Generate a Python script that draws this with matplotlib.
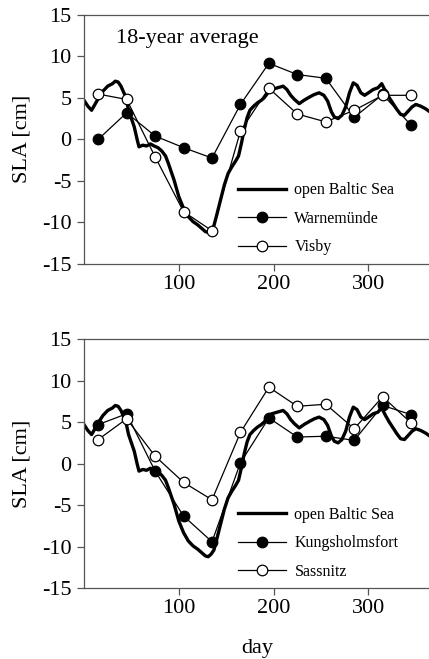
import matplotlib
matplotlib.use("Agg")
import matplotlib.pyplot as plt

plt.rcParams['font.family'] = ['Liberation Serif', 'DejaVu Serif']

# ---- data ----
baltic_days = [0, 4, 8, 12, 16, 20, 25, 30, 33, 36, 39, 44, 47, 50, 53, 56, 58, 62, 66, 70,
               74, 78, 82, 86, 89, 92, 95, 100, 105, 110, 115, 120, 124, 128, 131, 134, 137,
               140, 144, 148, 152, 156, 160, 163, 166, 169, 172, 175, 179, 183, 187, 190, 194, 198,
               204, 210, 214, 218, 222, 227, 232, 238, 243, 248, 253, 257, 261, 264, 268, 272,
               276, 280, 284, 288, 292, 296, 300, 305, 310, 314, 318, 322, 326, 330, 334, 338,
               342, 346, 350, 355, 360, 365]
baltic_sla = [4.7, 4.0, 3.5, 4.3, 5.1, 5.8, 6.4, 6.7, 7.0, 6.9, 6.4, 5.1, 3.5, 2.5, 1.5, 0.0, -0.9,
              -0.7, -0.8, -0.55, -0.8, -1.0, -1.4, -2.0, -2.9, -3.9, -4.9, -6.9, -8.3, -9.3, -9.9,
              -10.3, -10.7, -11.1, -11.2, -10.9, -10.4,
              -9.1, -7.3, -5.5, -4.1, -3.3, -2.6, -2.0, -0.5, 1.2, 2.6, 3.5, 4.0, 4.4, 4.7, 5.0,
              5.6, 6.0, 6.2, 6.4, 6.0, 5.3, 4.8, 4.3, 4.7, 5.1,
              5.4, 5.6, 5.3, 4.6, 3.3, 2.7, 2.5, 2.9, 3.9, 5.6, 6.8, 6.5, 5.6, 5.3, 5.6, 6.0, 6.2,
              6.7, 5.8, 5.0, 4.3, 3.6, 3.0, 2.9, 3.4, 3.9, 4.2, 4.0, 3.7, 3.3]

station_days = [15, 45, 75, 105, 135, 165, 195, 225, 255, 285, 315, 345]
warnemuende = [0.0, 3.2, 0.4, -1.0, -2.25, 4.2, 9.15, 7.8, 7.35, 2.65, 5.4, 1.7]
visby = [5.45, 4.8, -2.1, -8.7, -11.0, 1.0, 6.15, 3.05, 2.1, 3.5, 5.3, 5.3]
kungsholmsfort = [4.7, 6.0, -0.9, -6.3, -9.4, 0.1, 5.5, 3.2, 3.3, 2.8, 7.0, 5.9]
sassnitz = [2.9, 5.4, 0.9, -2.25, -4.35, 3.75, 9.2, 6.9, 7.15, 4.2, 8.05, 4.9]

yticks = [-15, -10, -5, 0, 5, 10, 15]
xticks = [100, 200, 300]

W, H = 429, 659
fig = plt.figure(figsize=(W / 100, H / 100), dpi=100)

left = 84 / W
right = 431 / W
panels = [(14.7, 264.0), (339.0, 588.3)]
spine_col = '#555555'

axes = []
for (top_px, bot_px) in panels:
    ax = fig.add_axes([left, 1 - bot_px / H, right - left, (bot_px - top_px) / H])
    axes.append(ax)


def style(ax):
    ax.set_xlim(0, 366)
    ax.set_ylim(-15, 15)
    ax.set_yticks(yticks)
    ax.set_yticklabels([str(v) for v in yticks])
    ax.set_xticks(xticks)
    for s in ax.spines.values():
        s.set_color(spine_col)
        s.set_linewidth(0.9)
    ax.tick_params(axis='both', direction='out', length=5, width=0.9,
                   color=spine_col, labelsize=16, labelcolor='black')
    ax.tick_params(axis='y', pad=4)
    ax.tick_params(axis='x', pad=3)
    ax.set_ylabel('SLA [cm]', fontsize=16)


def draw(ax, filled, open_, lab_f, lab_o):
    ax.plot(baltic_days, baltic_sla, color='black', lw=2.4, zorder=2,
            label='open Baltic Sea', solid_joinstyle='round')
    ax.plot(station_days, filled, color='black', lw=0.9, marker='o', ms=7.6,
            mfc='black', mec='black', mew=0.9, zorder=3, label=lab_f)
    ax.plot(station_days, open_, color='black', lw=0.9, marker='o', ms=7.6,
            mfc='white', mec='black', mew=0.9, zorder=4, label=lab_o)
    leg = ax.legend(loc='lower left', bbox_to_anchor=(0.443, 0.035), frameon=False,
                    fontsize=11.5, handlelength=3.05, handletextpad=0.5,
                    labelspacing=0.78, borderpad=0, borderaxespad=0, numpoints=1)
    return leg


ax1, ax2 = axes
draw(ax1, warnemuende, visby, 'Warnemünde', 'Visby')
style(ax1)
ax1.text(0.0925, 0.885, '18-year average', transform=ax1.transAxes,
         fontsize=16, va='baseline', ha='left')

draw(ax2, kungsholmsfort, sassnitz, 'Kungsholmsfort', 'Sassnitz')
style(ax2)
ax2.set_xlabel('day', fontsize=16, labelpad=15)

for ax in axes:
    ax.yaxis.set_label_coords(-0.152, 0.5)

fig.savefig('out.png', dpi=100)
